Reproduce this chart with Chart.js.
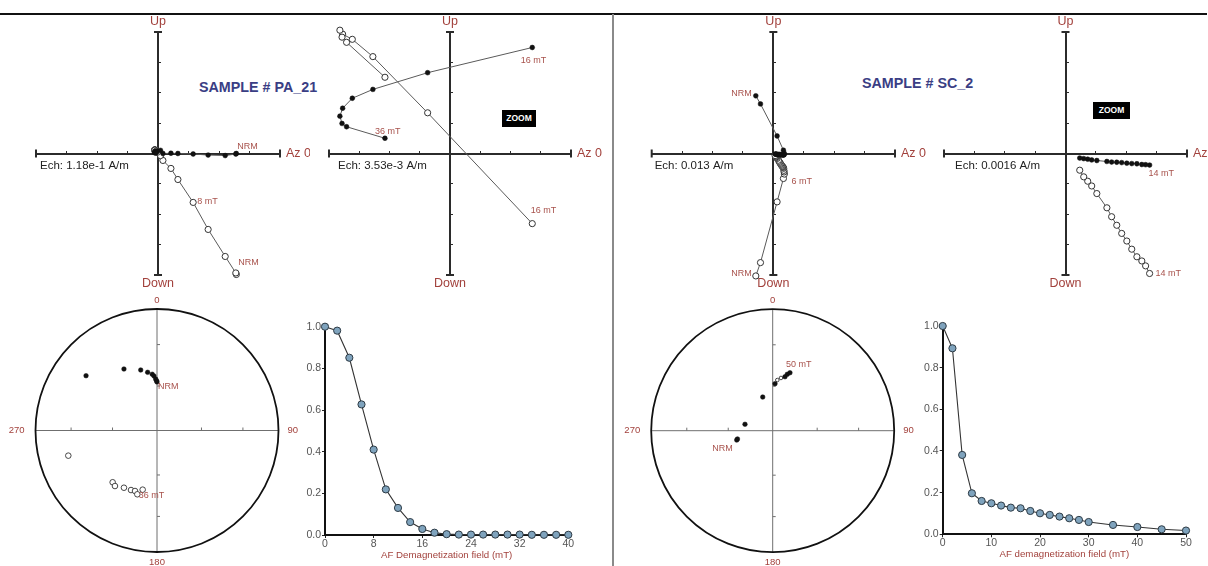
<!DOCTYPE html>
<html>
<head>
<meta charset="utf-8">
<title>AF demagnetization - PA_21 / SC_2</title>
<script src="https://cdn.jsdelivr.net/npm/chart.js@4.4.1/dist/chart.umd.min.js"></script>
<style>
  html, body { margin: 0; padding: 0; background: #fff; }
  #sheet { position: relative; width: 1208px; height: 566px; overflow: hidden;
           font-family: "Liberation Sans", Arial, Helvetica, sans-serif; }
  #sheet canvas { position: absolute; }
  .rule-top { position: absolute; left: 0; top: 13px; width: 1207px; height: 2px; background: #111; }
  .rule-mid { position: absolute; left: 612px; top: 14px; width: 2px; height: 552px; background: #8a8a8a; }
  .sample { position: absolute; font-weight: bold; font-size: 14.3px; line-height: 1; color: #3a3e84; white-space: nowrap; }
  .zoom-tag { position: absolute; height: 17px; line-height: 17px; background: #000; color: #fff;
              font-weight: bold; font-size: 8.5px; text-align: center; }
</style>
</head>
<body>
<div id="sheet">
  <div class="rule-top"></div>
  <div class="rule-mid"></div>
  <div class="sample" style="left:199px; top:80px;">SAMPLE # PA_21</div>
  <div class="sample" style="left:862px; top:76px;">SAMPLE # SC_2</div>
  <div class="zoom-tag" style="left:502px; top:110px; width:34px;">ZOOM</div>
  <div class="zoom-tag" style="left:1093px; top:102px; width:37px;">ZOOM</div>
</div>

<script>
(function() {
  'use strict';

  var FONT = '"Liberation Sans", Arial, Helvetica, sans-serif';
  var AXIS = '#2b2b2b';
  var LINK = '#5a5a5a';
  var RED = '#a2413c';
  var STEP_RED = '#a8524c';

  // ---- PA_21 demagnetization vectors (mA/m): north, west, up ----
  // steps NRM, 2, 4 ... 30, 36 mT
  var paNorth = [303, 301, 260, 194, 136, 77, 50, 19, 9.60, -2.61, -9.00, -11.40, -12.53, -12.85, -12.60, -12.07, -7.59];
  var paWest  = [0, -2, -8, -6, -2, 0, 1, 0, 12.32, 9.39, 7.45, 6.42, 5.26, 4.34, 3.49, 3.11, 1.77];
  var paUp    = [-470, -464, -400, -295, -190, -101, -58, -27, -8.15, 4.73, 11.26, 13.27, 13.87, 14.33, 13.52, 12.92, 8.86];

  // ---- SC_2 demagnetization vectors (mA/m): north, west, up ----
  var scNorth = [-7.5, -5.5, 1.6, 4.3, 4.7, 4.6, 4.5, 4.43, 4.22, 4.02, 3.76, 3.49, 3.23, 2.96, 2.70, 2.43, 2.18, 1.65, 1.38, 1.17, 0.96, 0.75];
  var scWest  = [24.7, 21.2, 7.5, 1.4, 0.0, -0.4, -0.5, -0.61, -0.59, -0.58, -0.54, -0.53, -0.51, -0.48, -0.46, -0.45, -0.42, -0.37, -0.34, -0.30, -0.27, -0.24];
  var scUp    = [-52.4, -46.7, -20.7, -10.7, -8.8, -7.9, -7.2, -6.32, -5.92, -5.66, -5.44, -5.04, -4.61, -4.21, -3.78, -3.33, -2.86, -2.11, -1.71, -1.46, -1.23, -0.88];

  // ---- equal-area directions, unit circle (x east, y north) ----
  var paLower = [[0.00, 0.40], [-0.004, 0.41], [-0.011, 0.424], [-0.025, 0.449], [-0.039, 0.463],
                 [-0.077, 0.479], [-0.134, 0.498], [-0.272, 0.506], [-0.584, 0.451]];
  var paUpper = [[-0.730, -0.207], [-0.365, -0.426], [-0.346, -0.457], [-0.272, -0.471],
                 [-0.214, -0.490], [-0.181, -0.498], [-0.162, -0.525], [-0.118, -0.487]];
  var scLower = [[-0.296, -0.077], [-0.290, -0.068], [-0.228, 0.053], [-0.082, 0.277],
                 [0.019, 0.387], [0.101, 0.444], [0.120, 0.464], [0.142, 0.477]];
  var scUpper = [[0.038, 0.417], [0.068, 0.434]];

  // ---- normalised intensity M/M0 ----
  var paField = [0, 2, 4, 6, 8, 10, 12, 14, 16, 18, 20, 22, 24, 26, 28, 30, 32, 34, 36, 38, 40];
  var paIntensity = [1.0, 0.981, 0.851, 0.627, 0.41, 0.219, 0.13, 0.062, 0.029, 0.011, 0.004,
                     0.002, 0.002, 0.002, 0.002, 0.002, 0.002, 0.001, 0.001, 0.001, 0.001];
  var scField = [0, 2, 4, 6, 8, 10, 12, 14, 16, 18, 20, 22, 24, 26, 28, 30, 35, 40, 45, 50];
  var scIntensity = [1.0, 0.893, 0.381, 0.197, 0.16, 0.149, 0.138, 0.128, 0.125, 0.112,
                     0.101, 0.093, 0.085, 0.077, 0.069, 0.059, 0.045, 0.035, 0.024, 0.018];

  var sheet = document.getElementById('sheet');

  function addCanvas(box) {
    var c = document.createElement('canvas');
    c.width = box[2];
    c.height = box[3];
    c.style.left = box[0] + 'px';
    c.style.top = box[1] + 'px';
    c.style.width = box[2] + 'px';
    c.style.height = box[3] + 'px';
    sheet.appendChild(c);
    return c;
  }

  // padding that puts the chart area on the given page rectangle
  function padFor(box, area) {
    return { left: area[0] - box[0], top: area[1] - box[1],
             right: box[0] + box[2] - area[2], bottom: box[1] + box[3] - area[3] };
  }

  function drawMarks(chart, marks) {
    var ctx = chart.ctx;
    ctx.save();
    ctx.fillStyle = STEP_RED;
    ctx.font = '9px ' + FONT;
    ctx.textBaseline = 'middle';
    marks.forEach(function(m) {
      var el = chart.getDatasetMeta(m.ds).data[m.i];
      if (!el) return;
      ctx.textAlign = m.align || 'left';
      ctx.fillText(m.text, el.x + m.dx, el.y + m.dy);
    });
    ctx.restore();
  }

  // ---- orthogonal (Zijderveld) projection decorations ----
  var zijDecor = {
    id: 'zijDecor',
    beforeDatasetsDraw: function(chart, args, o) {
      var ctx = chart.ctx, a = chart.chartArea;
      var x0 = chart.scales.x.getPixelForValue(0);
      var y0 = chart.scales.y.getPixelForValue(0);
      ctx.save();
      ctx.strokeStyle = AXIS;
      ctx.lineWidth = 2;
      ctx.beginPath();
      ctx.moveTo(a.left, y0 - 4); ctx.lineTo(a.left, y0 + 4);
      ctx.moveTo(a.right, y0 - 4); ctx.lineTo(a.right, y0 + 4);
      ctx.moveTo(x0 - 4, a.top); ctx.lineTo(x0 + 4, a.top);
      ctx.moveTo(x0 - 4, a.bottom); ctx.lineTo(x0 + 4, a.bottom);
      ctx.stroke();

      ctx.fillStyle = RED;
      ctx.font = '12.5px ' + FONT;
      ctx.textBaseline = 'middle';
      ctx.textAlign = 'center';
      ctx.fillText('Up', x0, a.top - 10);
      ctx.fillText('Down', x0, a.bottom + 9);
      ctx.textAlign = 'left';
      ctx.fillText('Az 0', a.right + 6, y0);

      ctx.fillStyle = '#222';
      ctx.font = '11.5px ' + FONT;
      ctx.fillText(o.echText, a.left + o.echDx, y0 + 12);
      ctx.restore();
    },
    afterDatasetsDraw: function(chart, args, o) {
      drawMarks(chart, o.marks || []);
    }
  };

  // axis through the origin; negative tick length puts the marks up / to the right
  function crossScale(range, step, at) {
    return {
      type: 'linear', min: -range, max: range, position: at,
      ticks: { display: false, stepSize: step },
      grid: { drawOnChartArea: false, drawTicks: true, tickLength: -4, color: AXIS, lineWidth: 1 },
      border: { display: true, color: AXIS, width: 2 }
    };
  }

  function zijderveld(box, area, north, west, up, from, ech, echText, echDx, marks) {
    var horiz = [], vert = [];
    for (var i = from; i < north.length; i++) {
      horiz.push({ x: north[i], y: west[i] });
      vert.push({ x: north[i], y: up[i] });
    }
    var range = 4 * ech;
    new Chart(addCanvas(box), {
      type: 'scatter',
      data: {
        datasets: [
          { data: horiz, showLine: true, borderColor: LINK, borderWidth: 1,
            pointRadius: 2.4, pointBackgroundColor: '#111', pointBorderColor: '#111',
            pointBorderWidth: 0.5, clip: false },
          { data: vert, showLine: true, borderColor: LINK, borderWidth: 1,
            pointRadius: 3.1, pointBackgroundColor: '#fff', pointBorderColor: '#333',
            pointBorderWidth: 1, clip: false }
        ]
      },
      options: {
        responsive: false, animation: false, events: [],
        layout: { autoPadding: false, padding: padFor(box, area) },
        plugins: {
          legend: { display: false }, tooltip: { enabled: false },
          zijDecor: { echText: echText, echDx: echDx, marks: marks }
        },
        scales: { x: crossScale(range, ech, { y: 0 }), y: crossScale(range, ech, { x: 0 }) }
      },
      plugins: [zijDecor]
    });
  }

  // ---- equal-area stereonet decorations ----
  var stereoDecor = {
    id: 'stereoDecor',
    beforeDatasetsDraw: function(chart) {
      var ctx = chart.ctx;
      var cx = chart.scales.x.getPixelForValue(0);
      var cy = chart.scales.y.getPixelForValue(0);
      var R = chart.scales.x.getPixelForValue(1) - cx;
      ctx.save();
      ctx.strokeStyle = '#6f6f6f';
      ctx.lineWidth = 1;
      ctx.beginPath();
      ctx.moveTo(cx - R, cy); ctx.lineTo(cx + R, cy);
      ctx.moveTo(cx, cy - R); ctx.lineTo(cx, cy + R);
      // inclination ticks at 30 and 60 degrees
      [30, 60].forEach(function(inc) {
        var rr = R * Math.SQRT2 * Math.sin((90 - inc) / 2 * Math.PI / 180);
        ctx.moveTo(cx - rr, cy - 3); ctx.lineTo(cx - rr, cy);
        ctx.moveTo(cx + rr, cy - 3); ctx.lineTo(cx + rr, cy);
        ctx.moveTo(cx, cy - rr); ctx.lineTo(cx + 3, cy - rr);
        ctx.moveTo(cx, cy + rr); ctx.lineTo(cx + 3, cy + rr);
      });
      ctx.stroke();

      ctx.strokeStyle = '#111';
      ctx.lineWidth = 1.8;
      ctx.beginPath();
      ctx.arc(cx, cy, R, 0, Math.PI * 2);
      ctx.stroke();

      ctx.fillStyle = RED;
      ctx.font = '9.5px ' + FONT;
      ctx.textBaseline = 'middle';
      ctx.textAlign = 'center';
      ctx.fillText('0', cx, cy - R - 9);
      ctx.fillText('180', cx, cy + R + 10);
      ctx.textAlign = 'right';
      ctx.fillText('270', cx - R - 11, cy);
      ctx.textAlign = 'left';
      ctx.fillText('90', cx + R + 9, cy);
      ctx.restore();
    },
    afterDatasetsDraw: function(chart, args, o) {
      drawMarks(chart, o.marks || []);
    }
  };

  function toPoints(pairs) {
    return pairs.map(function(p) { return { x: p[0], y: p[1] }; });
  }

  function stereonet(box, area, lower, upper, upperRadius, marks) {
    new Chart(addCanvas(box), {
      type: 'scatter',
      data: {
        datasets: [
          { data: toPoints(lower), pointRadius: 2.3, pointBackgroundColor: '#111',
            pointBorderColor: '#111', pointBorderWidth: 0.5, clip: false },
          { data: toPoints(upper), pointRadius: upperRadius, pointBackgroundColor: '#fff',
            pointBorderColor: '#333', pointBorderWidth: 0.9, clip: false }
        ]
      },
      options: {
        responsive: false, animation: false, events: [],
        layout: { autoPadding: false, padding: padFor(box, area) },
        plugins: { legend: { display: false }, tooltip: { enabled: false }, stereoDecor: { marks: marks } },
        scales: {
          x: { type: 'linear', min: -1, max: 1, display: false },
          y: { type: 'linear', min: -1, max: 1, display: false }
        }
      },
      plugins: [stereoDecor]
    });
  }

  // ---- intensity decay curve ----
  function demagCurve(box, area, field, intensity, xMax, xStep, title, titlePad) {
    var pts = field.map(function(f, i) { return { x: f, y: intensity[i] }; });
    var tickFont = { family: FONT, size: 10.5 };
    new Chart(addCanvas(box), {
      type: 'line',
      data: {
        datasets: [{
          data: pts, borderColor: '#333', borderWidth: 1.1, tension: 0,
          pointRadius: 3.6, pointBackgroundColor: '#7fa3bd', pointBorderColor: '#2d3a44',
          pointBorderWidth: 1, clip: false
        }]
      },
      options: {
        responsive: false, animation: false, events: [],
        layout: {
          autoPadding: false,
          padding: { left: area[0] - box[0] - 30, top: area[1] - box[1], right: box[0] + box[2] - area[2], bottom: 0 }
        },
        plugins: { legend: { display: false }, tooltip: { enabled: false } },
        scales: {
          x: {
            type: 'linear', min: 0, max: xMax,
            ticks: { stepSize: xStep, font: tickFont, color: '#555', padding: 0, maxRotation: 0 },
            grid: { drawOnChartArea: false, tickLength: 3, color: '#222' },
            border: { color: '#111', width: 2 },
            title: { display: true, text: title, color: RED, font: { family: FONT, size: 9.7 },
                     padding: { top: 0, bottom: titlePad } },
            afterFit: function(s) { s.height = box[1] + box[3] - area[3]; }
          },
          y: {
            type: 'linear', min: 0, max: 1,
            ticks: { stepSize: 0.2, font: tickFont, color: '#555', padding: 1,
                     callback: function(v) { return v.toFixed(1); } },
            grid: { drawOnChartArea: false, tickLength: 3, color: '#222' },
            border: { color: '#111', width: 2 },
            afterFit: function(s) { s.width = 30; }
          }
        }
      }
    });
  }

  // PA_21
  zijderveld([0, 16, 310, 284], [36, 32, 280, 275], paNorth, paWest, paUp, 0,
    118, 'Ech: 1.18e-1 A/m', 4,
    [{ ds: 0, i: 0, text: 'NRM', dx: 1, dy: -7 },
     { ds: 1, i: 0, text: 'NRM', dx: 2, dy: -12 },
     { ds: 1, i: 4, text: '8 mT', dx: 4, dy: -1 }]);
  zijderveld([306, 16, 300, 284], [329, 32, 571, 275], paNorth, paWest, paUp, 8,
    3.53, 'Ech: 3.53e-3 A/m', 9,
    [{ ds: 0, i: 0, text: '16 mT', dx: -11.5, dy: 13 },
     { ds: 1, i: 0, text: '16 mT', dx: -1.5, dy: -13 },
     { ds: 0, i: 8, text: '36 mT', dx: -10, dy: -7 }]);
  stereonet([0, 292, 312, 274], [35.5, 309, 278.5, 552], paLower, paUpper, 2.8,
    [{ ds: 0, i: 0, text: 'NRM', dx: 1, dy: 5 },
     { ds: 1, i: 7, text: '36 mT', dx: -4, dy: 6 }]);
  demagCurve([290, 300, 300, 266], [325, 326.7, 568.3, 535], paField, paIntensity, 40, 8,
    'AF Demagnetization field (mT)', 5);

  // SC_2
  zijderveld([622, 16, 306, 284], [651.7, 32, 895, 275], scNorth, scWest, scUp, 0,
    13, 'Ech: 0.013 A/m', 3,
    [{ ds: 0, i: 0, text: 'NRM', dx: -4, dy: -2, align: 'right' },
     { ds: 1, i: 0, text: 'NRM', dx: -4, dy: -2, align: 'right' },
     { ds: 1, i: 3, text: '6 mT', dx: 8, dy: 3 }]);
  zijderveld([930, 16, 278, 284], [944, 32, 1187, 275], scNorth, scWest, scUp, 7,
    1.6, 'Ech: 0.0016 A/m', 11,
    [{ ds: 0, i: 0, text: '14 mT', dx: -1, dy: 8 },
     { ds: 1, i: 0, text: '14 mT', dx: 6, dy: 0 }]);
  stereonet([620, 292, 300, 274], [651.2, 309.2, 894.2, 552.2], scLower, scUpper, 1.8,
    [{ ds: 0, i: 7, text: '50 mT', dx: -4, dy: -8 },
     { ds: 0, i: 0, text: 'NRM', dx: -4, dy: 8, align: 'right' }]);
  demagCurve([908, 300, 300, 266], [942.7, 326, 1186, 534.3], scField, scIntensity, 50, 10,
    'AF demagnetization field (mT)', 6);
})();
</script>
</body>
</html>
